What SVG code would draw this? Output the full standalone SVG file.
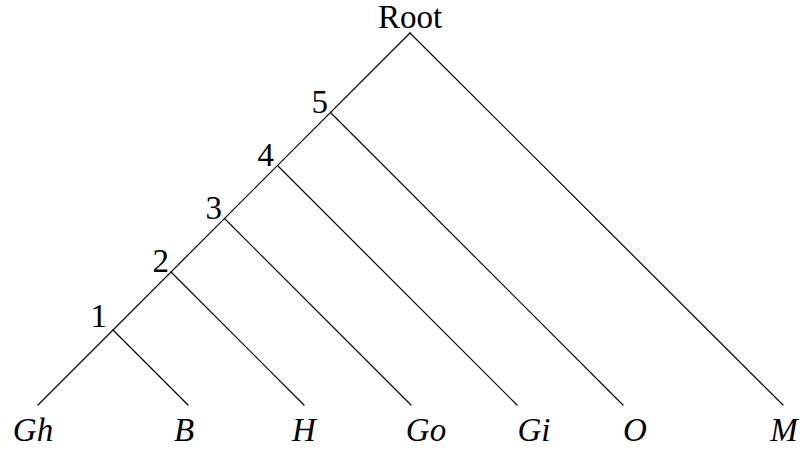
<svg xmlns="http://www.w3.org/2000/svg" width="806" height="450" viewBox="0 0 806 450">
<style>
.e{stroke:#000;stroke-width:1.2;fill:none;stroke-linecap:round}
.t{font-family:"Liberation Serif","DejaVu Serif",serif;font-size:33px;fill:#000}
.i{font-style:italic}
</style>
<rect width="806" height="450" fill="#fff"/>
<g id="connectors">
<line class="e" x1="410" y1="33" x2="38" y2="405"/>
<line class="e" x1="410" y1="33" x2="783" y2="405"/>
<line class="e" x1="330.5" y1="112.5" x2="623" y2="405"/>
<line class="e" x1="277.5" y1="165.5" x2="517" y2="405"/>
<line class="e" x1="224.5" y1="218.5" x2="411" y2="405"/>
<line class="e" x1="171" y1="272" x2="304" y2="405"/>
<line class="e" x1="113" y1="330" x2="188" y2="405"/>
</g>
<g id="root"><text class="t" x="410" y="28" text-anchor="middle">Root</text></g>
<g id="n5"><text class="t" x="328" y="113" text-anchor="end">5</text></g>
<g id="n4"><text class="t" x="274" y="166" text-anchor="end">4</text></g>
<g id="n3"><text class="t" x="222" y="219" text-anchor="end">3</text></g>
<g id="n2"><text class="t" x="169" y="272" text-anchor="end">2</text></g>
<g id="n1"><text class="t" x="107" y="327" text-anchor="end">1</text></g>
<g id="Gh"><text class="t i" x="33" y="441" text-anchor="middle">Gh</text></g>
<g id="B"><text class="t i" x="184" y="441" text-anchor="middle">B</text></g>
<g id="H"><text class="t i" x="304" y="441" text-anchor="middle">H</text></g>
<g id="Go"><text class="t i" x="426" y="441" text-anchor="middle">Go</text></g>
<g id="Gi"><text class="t i" x="534" y="441" text-anchor="middle">Gi</text></g>
<g id="O"><text class="t i" x="635" y="441" text-anchor="middle">O</text></g>
<g id="M"><text class="t i" x="784" y="441" text-anchor="middle">M</text></g>
</svg>
